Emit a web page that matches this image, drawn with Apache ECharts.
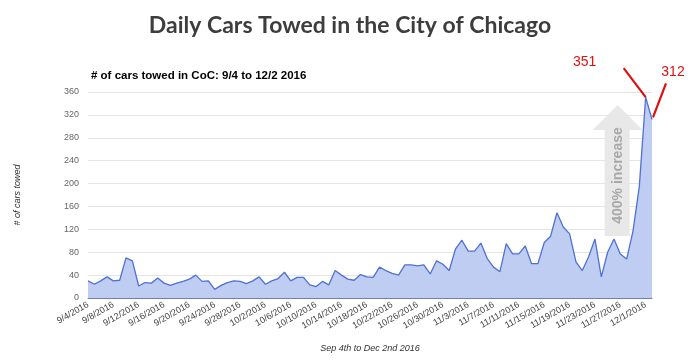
<!DOCTYPE html>
<html><head><meta charset="utf-8">
<script src="https://cdn.jsdelivr.net/npm/echarts@6/dist/echarts.min.js"></script>
<style>html,body{margin:0;padding:0;background:#fff}#c{width:700px;height:363px}</style>
</head><body><div id="c"></div>
<script>
var dates = ['9/4/2016','9/5/2016','9/6/2016','9/7/2016','9/8/2016','9/9/2016','9/10/2016','9/11/2016','9/12/2016','9/13/2016','9/14/2016','9/15/2016','9/16/2016','9/17/2016','9/18/2016','9/19/2016','9/20/2016','9/21/2016','9/22/2016','9/23/2016','9/24/2016','9/25/2016','9/26/2016','9/27/2016','9/28/2016','9/29/2016','9/30/2016',
'10/1/2016','10/2/2016','10/3/2016','10/4/2016','10/5/2016','10/6/2016','10/7/2016','10/8/2016','10/9/2016','10/10/2016','10/11/2016','10/12/2016','10/13/2016','10/14/2016','10/15/2016','10/16/2016','10/17/2016','10/18/2016','10/19/2016','10/20/2016','10/21/2016','10/22/2016','10/23/2016','10/24/2016','10/25/2016','10/26/2016','10/27/2016','10/28/2016','10/29/2016','10/30/2016','10/31/2016',
'11/1/2016','11/2/2016','11/3/2016','11/4/2016','11/5/2016','11/6/2016','11/7/2016','11/8/2016','11/9/2016','11/10/2016','11/11/2016','11/12/2016','11/13/2016','11/14/2016','11/15/2016','11/16/2016','11/17/2016','11/18/2016','11/19/2016','11/20/2016','11/21/2016','11/22/2016','11/23/2016','11/24/2016','11/25/2016','11/26/2016','11/27/2016','11/28/2016','11/29/2016','11/30/2016',
'12/1/2016','12/2/2016'];
var towed = [30,24,30,37,30,31,70,65,21,27,26,35,26,22,26,29,33,40,29,30,15,22,27,30,29,25,30,
37,24,30,34,45,30,36,36,23,20,29,23,48,40,33,31,41,37,36,54,48,43,40,58,58,56,58,42,65,59,
48,86,101,82,82,96,69,54,46,95,77,77,91,60,60,97,108,149,124,112,63,48,72,103,37,80,103,77,68,117,
195,351,312];
var yTicks = {min:0, max:360, step:40};
var titleText = 'Daily Cars Towed in the City of Chicago';
var subText = '# of cars towed in CoC: 9/4 to 12/2 2016';
var xName = 'Sep 4th to Dec 2nd 2016';
var yName = '# of cars towed';
var arrowText = '400% increase';

var chart = echarts.init(document.getElementById('c'));
chart.setOption({
  animation:false,
  title:[
    {text:titleText,left:'center',top:9,textStyle:{fontFamily:'Lato',fontWeight:'bold',fontSize:23,color:'#3d3d3d'}},
    {text:subText,left:86,top:65,textStyle:{fontFamily:'Liberation Sans',fontWeight:'bold',fontSize:11.5,color:'#000'}}
  ],
  grid:{left:88,right:48,top:92,bottom:65},
  xAxis:{type:'category',data:dates,boundaryGap:false,
    axisTick:{show:false},
    axisLine:{lineStyle:{color:'#6d7fb8',width:1}},
    axisLabel:{interval:3,rotate:30,fontSize:9,color:'#444',margin:6,fontFamily:'Liberation Sans'},
    name:xName,nameLocation:'middle',nameGap:46,
    nameTextStyle:{fontStyle:'italic',fontSize:9,color:'#333',fontFamily:'Liberation Sans'}},
  yAxis:{type:'value',min:yTicks.min,max:yTicks.max,interval:yTicks.step,
    axisLine:{show:false},axisTick:{show:false},
    splitLine:{lineStyle:{color:'#e4e4e4'}},
    axisLabel:{fontSize:9,color:'#666',margin:9,fontFamily:'Liberation Sans'},
    name:yName,nameLocation:'middle',nameGap:66,
    nameTextStyle:{fontStyle:'italic',fontSize:9,color:'#333',fontFamily:'Liberation Sans'}},
  series:[{type:'line',data:towed,symbol:'none',
    lineStyle:{color:'#4f71d2',width:1.3},
    areaStyle:{color:'#c0cdf2',opacity:1}}]
});

var pPeak = chart.convertToPixel({xAxisIndex:0,yAxisIndex:0},[88,351]);
var pLast = chart.convertToPixel({xAxisIndex:0,yAxisIndex:0},[89,312]);
var ax = pPeak[0]-28, ay0 = 236, ay1 = 105;
chart.setOption({graphic:[
  {type:'polygon',shape:{points:[[ax-13,ay0],[ax+12,ay0],[ax+12,ay1+25],[ax+25,ay1+25],[ax,ay1],[ax-25,ay1+25],[ax-13,ay1+25]]},
   style:{fill:'#e8e8e8'},z:10},
  {type:'text',x:ax,y:(ay0+ay1)/2+5,rotation:Math.PI/2,
   style:{text:arrowText,fill:'#a8a8a8',font:'bold 14px "Liberation Sans"',align:'center',verticalAlign:'middle'},z:11},
  {type:'line',shape:{x1:pPeak[0]-22,y1:pPeak[1]-29,x2:pPeak[0],y2:pPeak[1]},style:{stroke:'#e01010',lineWidth:2.2},z:12},
  {type:'text',x:pPeak[0]-61,y:pPeak[1]-35,style:{text:'351',fill:'#e01010',font:'14px "Liberation Sans"',align:'center',verticalAlign:'middle'},z:12},
  {type:'line',shape:{x1:pLast[0]+14,y1:pLast[1]-36,x2:pLast[0]+1,y2:pLast[1]-2},style:{stroke:'#e01010',lineWidth:2.2},z:12},
  {type:'text',x:pLast[0]+21,y:pLast[1]-47,style:{text:'312',fill:'#e01010',font:'14px "Liberation Sans"',align:'center',verticalAlign:'middle'},z:12}
]});
</script></body></html>
